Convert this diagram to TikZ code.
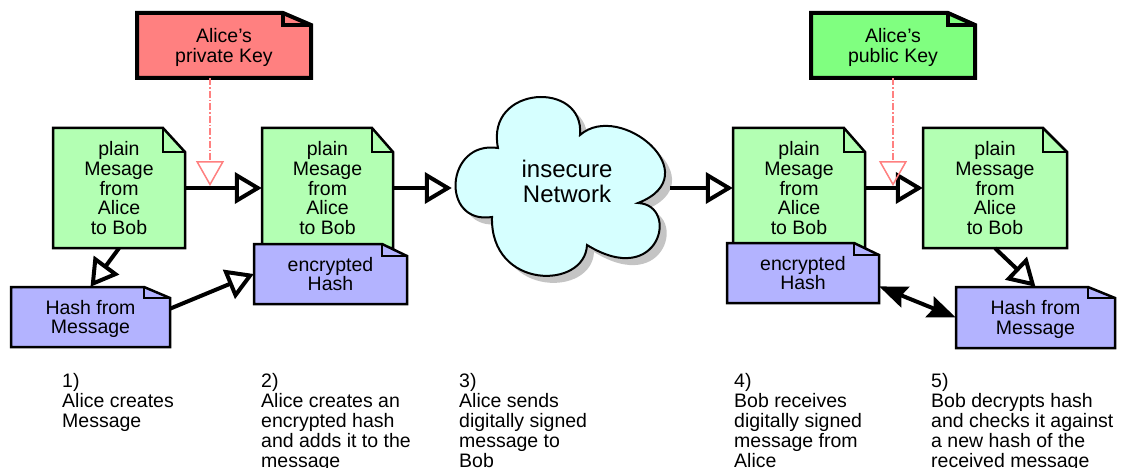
\documentclass[tikz,border=0pt]{standalone}
\usepackage{fontspec}
\setmainfont{Liberation Sans}
\usetikzlibrary{arrows.meta}

\definecolor{msggreen}{HTML}{B3FFB3}
\definecolor{hashblue}{HTML}{B3B3FF}
\definecolor{privred}{HTML}{FF8080}
\definecolor{pubgreen}{HTML}{80FF80}
\definecolor{netcyan}{HTML}{D6FFFF}
\definecolor{keypink}{HTML}{FF8080}
\definecolor{shadowgray}{HTML}{C4C4C4}

% dog-eared note: name, style, x1, y1, x2, y2, fold width, fold height, text
\newcommand\notebox[9]{%
  \draw[#2] (#3,#4) -- ({#5-#7},#4) -- (#5,{#4+#8}) -- (#5,#6) -- (#3,#6) -- cycle;
  \draw[#2, fill=none] ({#5-#7},#4) -- ({#5-#7},{#4+#8}) -- (#5,{#4+#8});
  \node[notetext, minimum width={(#5-#3)*1pt}, minimum height={(#6-#4)*1pt}]
    (#1) at ({(#3+#5)/2},{(#4+#6)/2}) {#9};
}

% outline of the network cloud
\newcommand\netoutline{(498,148)
  .. controls (485,85) and (585,80) .. (580,135)
  .. controls (620,100) and (710,175) .. (638,203)
  .. controls (680,205) and (660,290) .. (587,245)
  .. controls (585,290) and (490,290) .. (492,217)
  .. controls (440,225) and (445,140) .. (498,148) -- cycle}

\begin{document}
\begin{tikzpicture}[x=1pt, y=-1pt,
  notetext/.style={inner sep=0pt, align=center, text depth=0pt,
    font=\fontsize{19.5}{19.7}\selectfont},
  msgnote/.style={draw=black, fill=msggreen, line width=2.5pt, line join=miter},
  hashnote/.style={draw=black, fill=hashblue, line width=2.5pt, line join=miter},
  keynote/.style={draw=black, line width=4pt, line join=miter},
  flow/.style={draw=black, line width=4pt,
    -{Triangle[open, length=27pt, width=31pt]}},
  compare/.style={draw=black, line width=4pt,
    {Stealth[length=28pt, width=22pt, inset=4pt]}-{Stealth[length=28pt, width=22pt, inset=4pt]}},
  keyline/.style={draw=keypink, line width=1.5pt,
    dash pattern=on 7pt off 2pt on 1.5pt off 2pt,
    -{Triangle[open, length=25pt, width=28pt]}},
  caption/.style={inner sep=0pt, anchor=north west, align=left,
    font=\fontsize{19.5}{20}\selectfont},
]
\useasboundingbox (0,0) rectangle (1129,468);

% keys
\notebox{privkey}{keynote, fill=privred}{137}{13}{311}{78}{28}{12}{Alice’s\\private Key}
\notebox{pubkey}{keynote, fill=pubgreen}{811}{13}{975}{78}{27}{12}{Alice’s\\public Key}

% sender side
\notebox{msgA}{msgnote}{53}{128}{185}{248}{22}{24}{plain\\Mesage\\from\\Alice\\to Bob}
\notebox{msgB}{msgnote}{262}{128}{393}{248}{21}{24}{plain\\Mesage\\from\\Alice\\to Bob}
\notebox{hashA}{hashnote}{11}{287}{170}{347}{26}{11}{Hash from\\Message}
\notebox{encA}{hashnote}{254}{244}{407}{304}{25}{12}{encrypted\\Hash}

% network cloud with its shadow
\fill[shadowgray, shift={(7,7)}] \netoutline;
\draw[fill=netcyan, line width=2pt] \netoutline;
\node[inner sep=0pt, minimum width=218pt, minimum height=20pt] (net) at (561,188) {};
\node[notetext, font=\fontsize{24}{25}\selectfont] (nettext) at (567,181) {insecure\\Network};

% receiver side
\notebox{msgC}{msgnote}{733}{128}{865}{248}{21}{24}{plain\\Mesage\\from\\Alice\\to Bob}
\notebox{encC}{hashnote}{727}{243}{879}{303}{25}{12}{encrypted\\Hash}
\notebox{msgD}{msgnote}{923}{128}{1067}{248}{24}{24}{plain\\Message\\from\\Alice\\to Bob}
\notebox{hashD}{hashnote}{956}{287}{1115}{348}{27}{11}{Hash from\\Message}

% message flow
\draw[flow] (msgA.east) -- (msgB.west);
\draw[flow] (msgA.south) -- (hashA.north);
\draw[flow] (hashA.6) -- (encA.west);
\draw[flow] (msgB.east) -- (net.west);
\draw[flow] (net.east) -- (msgC.west);
\draw[flow] (msgC.east) -- (msgD.west);
\draw[flow] (msgD.south) -- (hashD.north);
\draw[compare] (encC.-10) -- (hashD.west);

% key usage
\coordinate (privtip) at (210,186);
\coordinate (pubtip) at (893,186);
\draw[keyline] (privkey.south -| privtip) -- (privtip);
\draw[keyline] (pubkey.south -| pubtip) -- (pubtip);

% step captions
\node[caption] (cap1) at (62,373) {1)\\Alice creates\\Message};
\node[caption] (cap2) at (261,373) {2)\\Alice creates an\\encrypted hash\\and adds it to the\\message};
\node[caption] (cap3) at (459,373) {3)\\Alice sends\\digitally signed\\message to\\Bob};
\node[caption] (cap4) at (734,373) {4)\\Bob receives\\digitally signed\\message from\\Alice};
\node[caption] (cap5) at (931,373) {5)\\Bob decrypts hash\\and checks it against\\a new hash of the\\received message};
\end{tikzpicture}
\end{document}
